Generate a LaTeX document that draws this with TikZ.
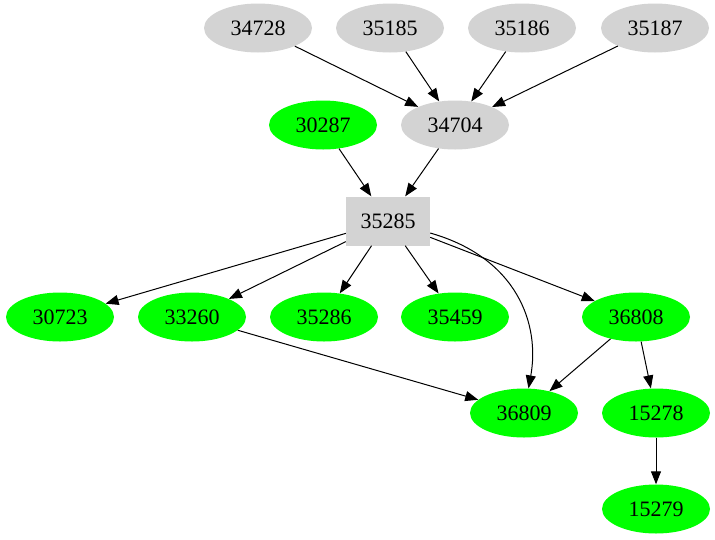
\documentclass[tikz,border=0pt]{standalone}
\usepackage{fontspec}
\setmainfont{Liberation Serif}
\usetikzlibrary{shapes.geometric,arrows.meta}
\definecolor{gv}{HTML}{D3D3D3}
\definecolor{gg}{HTML}{00FF00}
\begin{document}
\begin{tikzpicture}[x=1pt,y=-1pt,
  base/.style={inner sep=0pt,font=\fontsize{22}{24}\selectfont},
  grayell/.style={base,ellipse,fill=gv,minimum width=108pt,minimum height=49pt},
  greenell/.style={base,ellipse,fill=gg,minimum width=108pt,minimum height=49pt},
  graybox/.style={base,rectangle,fill=gv,minimum width=84pt,minimum height=49pt},
  edge/.style={line width=1pt,-{Triangle[length=13pt,width=10pt]}}]
\useasboundingbox (0,0) rectangle (715,539);
\node[grayell] (a34728) at (258,28) {34728};
\node[grayell] (a35185) at (390,28) {35185};
\node[grayell] (a35186) at (522,28) {35186};
\node[grayell] (a35187) at (655,28) {35187};
\node[greenell] (a30287) at (323,125) {30287};
\node[grayell] (a34704) at (455,125) {34704};
\node[graybox] (a35285) at (388,221) {35285};
\node[greenell] (a30723) at (60,317) {30723};
\node[greenell] (a33260) at (192,317) {33260};
\node[greenell] (a35286) at (324,317) {35286};
\node[greenell] (a35459) at (455,317) {35459};
\node[greenell] (a36808) at (636,317) {36808};
\node[greenell] (a36809) at (524,413) {36809};
\node[greenell] (a15278) at (656,413) {15278};
\node[greenell] (a15279) at (656,509) {15279};
\draw[edge] (a34728) -- (a34704);
\draw[edge] (a35185) -- (a34704);
\draw[edge] (a35186) -- (a34704);
\draw[edge] (a35187) -- (a34704);
\draw[edge] (a30287) -- (a35285);
\draw[edge] (a34704) -- (a35285);
\draw[edge] (a35285) -- (a30723);
\draw[edge] (a35285) -- (a33260);
\draw[edge] (a35285) -- (a35286);
\draw[edge] (a35285) -- (a35459);
\draw[edge] (a35285) -- (a36808);
\draw[edge] (a35285) .. controls (518,258) and (540,325) .. (a36809);
\draw[edge] (a33260) -- (a36809);
\draw[edge] (a36808) -- (a36809);
\draw[edge] (a36808) -- (a15278);
\draw[edge] (a15278) -- (a15279);
\end{tikzpicture}
\end{document}
